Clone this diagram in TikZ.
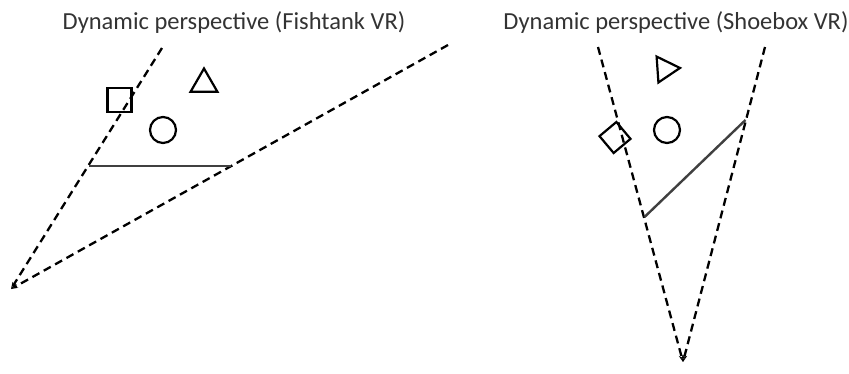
\documentclass[tikz,border=0pt]{standalone}
\usepackage{fontspec}
\setmainfont{Carlito}
\usetikzlibrary{shapes.geometric,arrows.meta}
\begin{document}
\begin{tikzpicture}[x=1pt,y=-1pt,
  ray/.style={line width=2.3pt,dash pattern=on 8pt off 5pt,-{Stealth[open,length=7pt,width=5pt,line width=0.8pt]}},
  wall/.style={line width=2.4pt,draw=black!75},
  obj/.style={draw,line width=2.2pt,inner sep=0pt},
  title/.style={font=\fontsize{24.5}{28}\selectfont,text=black!80}]
\useasboundingbox (0,0) rectangle (849,373);
% left panel
\node[title] (t1) at (234,23) {Dynamic perspective (Fishtank VR)};
\coordinate (a1) at (11,289);
\coordinate (p1) at (162,48);
\coordinate (q1) at (448,45);
\draw[ray] (p1) -- (a1);
\draw[ray] (q1) -- (a1);
\coordinate (w1a) at (89,166);
\coordinate (w1b) at (231,166);
\draw[wall] (w1a) -- (w1b);
\node[obj,rectangle,minimum size=24pt] (sq1) at (119.5,100) {};
\node[obj,regular polygon,regular polygon sides=3,minimum size=31pt] (tr1) at (204,84) {};
\node[obj,circle,minimum size=26pt] (c1) at (163,130) {};
% right panel
\node[title] (t2) at (676,23) {Dynamic perspective (Shoebox VR)};
\coordinate (a2) at (683,362);
\coordinate (p2) at (598,47);
\coordinate (q2) at (765,47);
\draw[ray] (p2) -- (a2);
\draw[ray] (q2) -- (a2);
\coordinate (w2a) at (644.5,217);
\coordinate (w2b) at (745.5,120);
\draw[wall] (w2a) -- (w2b);
\node[obj,rectangle,minimum size=22pt,rotate=40] (sq2) at (615,137.5) {};
\node[obj,regular polygon,regular polygon sides=3,minimum size=30pt,shape border rotate=-86] (tr2) at (665,69) {};
\node[obj,circle,minimum size=26pt] (c2) at (667,130) {};
\end{tikzpicture}
\end{document}
